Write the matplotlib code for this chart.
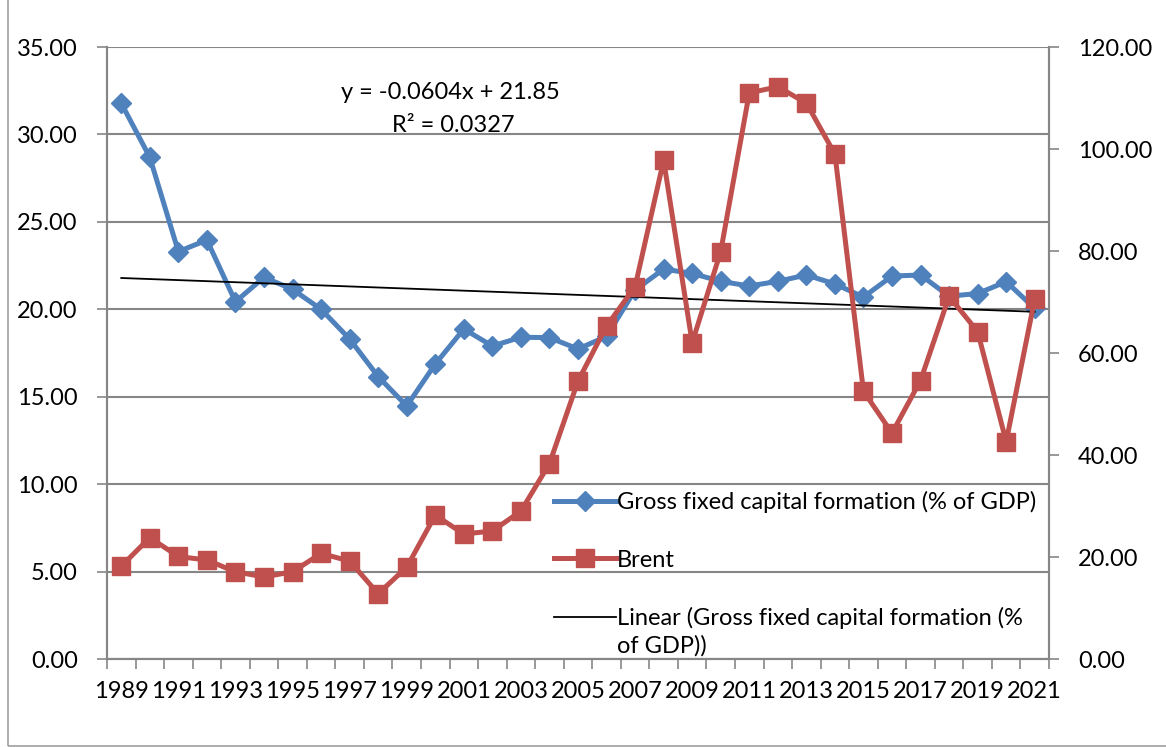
import matplotlib
matplotlib.use("Agg")
import matplotlib.pyplot as plt
import numpy as np
from matplotlib.patches import Rectangle

# data
years = list(range(1989, 2022))
gfcf = [31.78, 28.69, 23.30, 23.96, 20.43, 21.83, 21.14, 20.00, 18.30, 16.15,
        14.47, 16.87, 18.87, 17.90, 18.40, 18.38, 17.73, 18.45, 21.10, 22.30,
        22.05, 21.60, 21.33, 21.60, 21.96, 21.45, 20.70, 21.90, 21.96, 20.75,
        20.90, 21.58, 20.05]
brent = [18.2, 23.8, 20.1, 19.4, 17.1, 16.1, 17.1, 20.7, 19.2, 12.8,
         18.0, 28.2, 24.5, 25.1, 29.0, 38.3, 54.5, 65.3, 73.0, 97.8,
         62.0, 79.9, 111.0, 112.2, 109.0, 99.0, 52.5, 44.3, 54.6, 71.1,
         64.2, 42.6, 70.6]
trend_slope = -0.0604
trend_icpt = 21.85
r2 = 0.0327

blue = "#4F81BD"
red = "#C0504D"
grid_c = "#868686"

plt.rcParams['font.family'] = ['Lato', 'DejaVu Sans']

fig = plt.figure(figsize=(11.66, 7.47), dpi=100)
fig.patches.append(Rectangle((8/1166, 0.002), 1.2, 1.2, transform=fig.transFigure,
                             fill=False, edgecolor="#A0A0A0", linewidth=1.2))
ax = fig.add_axes([107/1166, 1-659/747, 942/1166, 612/747])

x = np.arange(len(years))
# trend line from the fitted equation (x = 1..n)
xt = x + 1
trend = trend_slope * xt + trend_icpt

ax.plot(x, gfcf, color=blue, lw=3.6, marker="D", markersize=10.5,
        label="Gross fixed capital formation (% of GDP)", zorder=3)
ax.plot(x, trend, color="black", lw=1.3,
        label="Linear (Gross fixed capital formation (%", zorder=4)

ax2 = ax.twinx()
ax2.plot(x, brent, color=red, lw=3.6, marker="s", markersize=13.5,
         label="Brent", zorder=3)

ax.set_xlim(-0.5, len(years) - 0.5)
ax.set_ylim(0, 35)
ax2.set_ylim(0, 120)
ax.set_yticks(np.arange(0, 36, 5))
ax2.set_yticks(np.arange(0, 121, 20))
ax.set_yticklabels(["%.2f" % v for v in np.arange(0, 36, 5)])
ax2.set_yticklabels(["%.2f" % v for v in np.arange(0, 121, 20)])
ax.yaxis.grid(True, color=grid_c, lw=1.5)
ax.set_axisbelow(True)

ax.set_xticks(x[::2])
ax.set_xticklabels([str(y) for y in years[::2]])
ax.set_xticks(np.arange(-0.5, len(years), 1), minor=True)
ax.tick_params(axis="x", which="major", length=0, pad=16, labelsize=17)
ax.tick_params(axis="x", which="minor", length=7, color=grid_c, width=1.2, direction="out")
ax.tick_params(axis="y", length=7, color=grid_c, width=1.2, labelsize=17, pad=14)
ax2.tick_params(axis="y", length=7, color=grid_c, width=1.2, labelsize=17, pad=14)
ax2.tick_params(axis="x", length=0)

for a in (ax, ax2):
    a.spines["top"].set_visible(False)
    for s in ("left", "right", "bottom"):
        a.spines[s].set_color(grid_c)
        a.spines[s].set_linewidth(1.5)

ax.text(0.365, 0.925, "y = -0.0604x + 21.85", transform=ax.transAxes,
        ha="center", va="center", fontsize=17, zorder=6)
ax.text(0.368, 0.871, "R\u00b2 = %.4f" % r2, transform=ax.transAxes,
        ha="center", va="center", fontsize=17, zorder=6)

h1, l1 = ax.get_legend_handles_labels()
h2, l2 = ax2.get_legend_handles_labels()
handles = [h1[0], h2[0], h1[1]]
labels = [l1[0], l2[0], l1[1]]
leg = ax2.legend(handles, labels, loc="upper left", bbox_to_anchor=(0.465, 0.29),
                 frameon=False, fontsize=17, labelspacing=1.55, handlelength=2.6,
                 handletextpad=0.05, borderaxespad=0)

# wrapped second line of the trendline legend entry
fig.canvas.draw()
bb = leg.get_texts()[2].get_window_extent().transformed(fig.transFigure.inverted())
fig.text(bb.x0, bb.y0 - 0.008, "of GDP))", ha="left", va="top", fontsize=17)

fig.savefig("out.png", dpi=100)
